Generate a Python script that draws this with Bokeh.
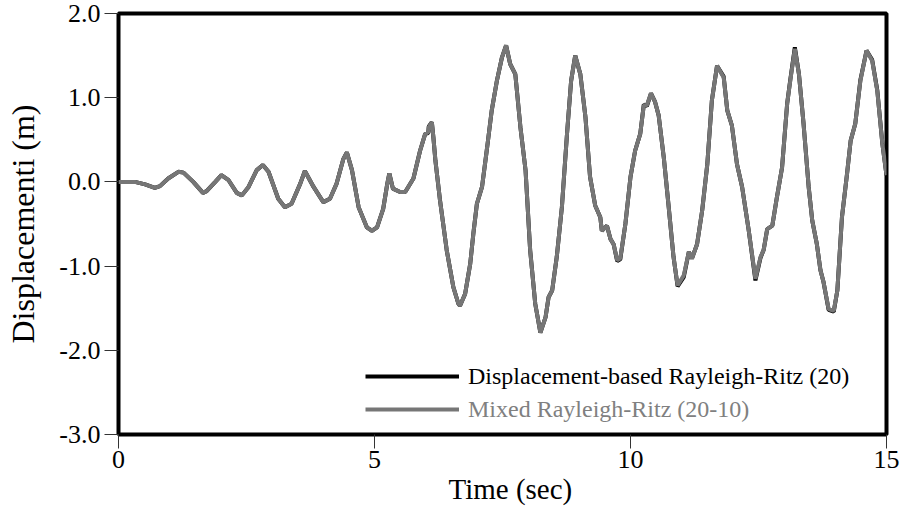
from bokeh.plotting import figure
from bokeh.models import Range1d, FixedTicker, PrintfTickFormatter, Legend, LegendItem, Title
from bokeh.embed import file_html
from bokeh.resources import INLINE

# Time history of the top displacement (s, m)
time_s = [0.00, 0.32, 0.52, 0.71, 0.81, 0.97, 1.17, 1.27, 1.46, 1.65, 1.72, 1.89, 2.01, 2.15,
          2.31, 2.41, 2.54, 2.70, 2.82, 2.93, 3.12, 3.25, 3.38, 3.55, 3.64, 3.81, 4.00, 4.13,
          4.26, 4.39, 4.46, 4.56, 4.69, 4.85, 4.95, 5.05, 5.17, 5.25, 5.29, 5.36, 5.50, 5.60,
          5.76, 5.89, 5.99, 6.05, 6.06, 6.12, 6.15, 6.19, 6.28, 6.41, 6.54, 6.64, 6.67, 6.77,
          6.87, 6.93, 7.00, 7.10, 7.20, 7.29, 7.39, 7.49, 7.57, 7.65, 7.75, 7.85, 7.95, 8.04,
          8.14, 8.24, 8.34, 8.40, 8.47, 8.56, 8.66, 8.76, 8.84, 8.92, 9.02, 9.12, 9.21, 9.31,
          9.41, 9.44, 9.54, 9.61, 9.67, 9.74, 9.80, 9.90, 10.00, 10.09, 10.19, 10.26, 10.32,
          10.40, 10.48, 10.55, 10.65, 10.74, 10.84, 10.92, 11.04, 11.14, 11.20, 11.30, 11.40,
          11.50, 11.59, 11.69, 11.82, 11.89, 11.98, 12.08, 12.18, 12.31, 12.44, 12.54, 12.60,
          12.67, 12.77, 12.86, 12.96, 13.06, 13.12, 13.21, 13.29, 13.38, 13.48, 13.55, 13.64,
          13.71, 13.77, 13.87, 13.97, 14.04, 14.13, 14.23, 14.30, 14.39, 14.49, 14.61, 14.72,
          14.82, 14.92, 15.00]

# Displacement-based Rayleigh-Ritz, 20 terms
disp_rr = [0.00, 0.00, -0.03, -0.07, -0.05, 0.04, 0.12, 0.11, 0.00, -0.13, -0.11, 0.00, 0.08, 0.02,
           -0.13, -0.16, -0.06, 0.14, 0.20, 0.12, -0.20, -0.30, -0.26, -0.02, 0.13, -0.06, -0.24, -0.20,
           -0.02, 0.27, 0.35, 0.14, -0.30, -0.54, -0.58, -0.54, -0.32, -0.02, 0.10, -0.08, -0.12, -0.12,
           0.04, 0.37, 0.57, 0.58, 0.66, 0.71, 0.53, 0.25, -0.22, -0.81, -1.25, -1.45, -1.47, -1.33,
           -0.97, -0.62, -0.26, -0.06, 0.41, 0.85, 1.20, 1.48, 1.62, 1.40, 1.28, 0.65, 0.14, -0.81,
           -1.45, -1.79, -1.61, -1.37, -1.29, -0.89, -0.30, 0.57, 1.20, 1.50, 1.28, 0.77, 0.06, -0.28,
           -0.42, -0.58, -0.52, -0.68, -0.74, -0.94, -0.92, -0.50, 0.06, 0.37, 0.57, 0.92, 0.90,
           1.05, 0.95, 0.79, 0.29, -0.26, -0.89, -1.24, -1.13, -0.83, -0.91, -0.74, -0.34,
           0.21, 0.97, 1.38, 1.25, 0.85, 0.67, 0.21, -0.06, -0.58, -1.17, -0.90, -0.81,
           -0.56, -0.52, -0.18, 0.17, 0.93, 1.21, 1.60, 1.28, 0.69, -0.06, -0.46, -0.74,
           -1.05, -1.19, -1.52, -1.54, -1.29, -0.42, 0.10, 0.49, 0.69, 1.21, 1.56, 1.45,
           1.09, 0.45, 0.08]

# Mixed Rayleigh-Ritz, 20-10 terms
disp_mixed = [0.00, 0.00, -0.03, -0.07, -0.05, 0.04, 0.12, 0.11, 0.00, -0.13, -0.11, 0.00, 0.08, 0.02,
              -0.13, -0.16, -0.06, 0.14, 0.20, 0.12, -0.20, -0.30, -0.26, -0.02, 0.13, -0.06, -0.24, -0.20,
              -0.02, 0.27, 0.35, 0.14, -0.30, -0.54, -0.58, -0.54, -0.32, -0.02, 0.10, -0.08, -0.12, -0.12,
              0.04, 0.37, 0.57, 0.59, 0.65, 0.71, 0.53, 0.25, -0.22, -0.81, -1.25, -1.45, -1.47, -1.33,
              -0.97, -0.62, -0.26, -0.06, 0.41, 0.85, 1.20, 1.48, 1.62, 1.40, 1.28, 0.65, 0.14, -0.81,
              -1.45, -1.79, -1.61, -1.37, -1.29, -0.89, -0.30, 0.57, 1.20, 1.50, 1.28, 0.77, 0.06, -0.28,
              -0.42, -0.58, -0.52, -0.68, -0.74, -0.93, -0.91, -0.50, 0.06, 0.37, 0.57, 0.91, 0.91,
              1.05, 0.95, 0.79, 0.29, -0.26, -0.89, -1.23, -1.11, -0.83, -0.91, -0.74, -0.34,
              0.21, 0.97, 1.38, 1.24, 0.85, 0.67, 0.21, -0.06, -0.58, -1.15, -0.89, -0.81,
              -0.56, -0.52, -0.18, 0.17, 0.93, 1.20, 1.58, 1.28, 0.69, -0.06, -0.46, -0.74,
              -1.05, -1.19, -1.51, -1.53, -1.29, -0.42, 0.10, 0.49, 0.69, 1.20, 1.56, 1.44,
              1.08, 0.45, 0.08]

x_ticks = [0, 5, 10, 15]
y_ticks = [-3, -2, -1, 0, 1, 2]

label_rr = "Displacement-based Rayleigh-Ritz (20)"
label_mixed = "Mixed Rayleigh-Ritz (20-10)"

FONT = "Liberation Serif"
GREY = "#767676"

p = figure(width=903, height=510, output_backend="svg", toolbar_location=None,
           x_range=Range1d(0, 15), y_range=Range1d(-3, 2),
           min_border_left=118, min_border_right=17, min_border_top=13, min_border_bottom=76)

p.background_fill_color = "white"
p.border_fill_color = "white"
p.outline_line_color = "black"
p.outline_line_width = 4
p.xgrid.visible = False
p.ygrid.visible = False

for ax in (p.xaxis, p.yaxis):
    ax.axis_line_color = None
    ax.major_tick_in = 0
    ax.major_tick_out = 14
    ax.major_tick_line_color = "#333333"
    ax.major_tick_line_width = 1
    ax.minor_tick_line_color = None
    ax.major_label_text_font = FONT
    ax.major_label_text_font_size = "26px"
    ax.major_label_text_color = "black"
    ax.axis_label_text_font = FONT
    ax.axis_label_text_font_style = "normal"
    ax.axis_label_text_color = "black"

p.xaxis.ticker = FixedTicker(ticks=x_ticks)
p.xaxis.major_label_standoff = 2
p.yaxis.ticker = FixedTicker(ticks=y_ticks)
p.yaxis.formatter = PrintfTickFormatter(format="%.1f")
p.yaxis.major_label_standoff = 4
p.yaxis.axis_label = "Displacementi (m)"
p.yaxis.axis_label_text_font_size = "32px"
p.yaxis.axis_label_standoff = 15

# x axis title in its own panel below the axis, placed a little right of centre
p.add_layout(Title(text="Time (sec)", align="left", offset=330, standoff=0,
                   text_font=FONT, text_font_size="29px", text_font_style="normal",
                   text_color="black"), "below")

r_rr = p.line(time_s, disp_rr, line_color="black", line_width=4)
r_mixed = p.line(time_s, disp_mixed, line_color=GREY, line_width=4)

def make_legend(label, renderer, color, y):
    leg = Legend(items=[LegendItem(label=label, renderers=[renderer])],
                 location=(247, y), padding=0, margin=0, spacing=0,
                 glyph_width=94, glyph_height=28, label_height=28, label_standoff=9,
                 label_text_font=FONT, label_text_font_size="24px", label_text_color=color,
                 label_text_baseline="middle",
                 border_line_color=None, background_fill_alpha=0)
    p.add_layout(leg, "center")

make_legend(label_rr, r_rr, "black", 44)
make_legend(label_mixed, r_mixed, "#808080", 11)

open("out.html", "w").write(file_html(p, INLINE))
